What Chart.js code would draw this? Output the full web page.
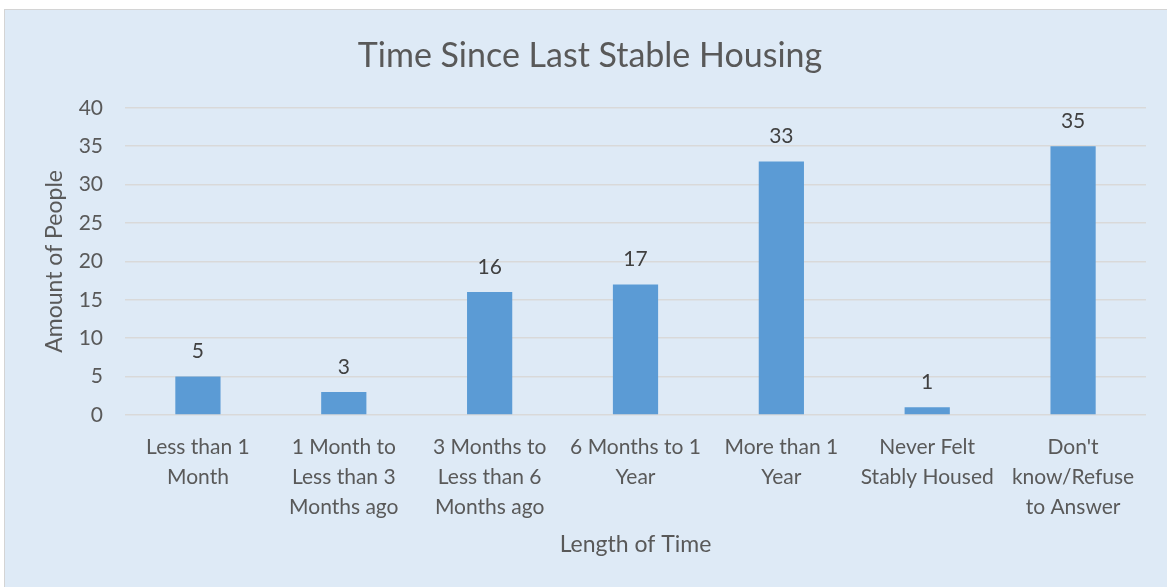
<!DOCTYPE html>
<html>
<head>
<meta charset="utf-8">
<script src="https://cdn.jsdelivr.net/npm/chart.js@4/dist/chart.umd.min.js"></script>
<style>
  html, body { margin: 0; padding: 0; background: #fff; }
  #box {
    position: absolute; left: 4px; top: 9px; width: 1170px; height: 590px;
    background: #deeaf6; border: 1px solid #d4d4d4; box-sizing: border-box;
  }
  #wrap { position: absolute; left: 0; top: 0; width: 1167px; height: 587px; }
</style>
</head>
<body>
<div id="box"></div>
<div id="wrap"><canvas id="chart" width="1167" height="587"></canvas></div>
<script>
const categories = [
    ['Less than 1', 'Month'],
    ['1 Month to', 'Less than 3', 'Months ago'],
    ['3 Months to', 'Less than 6', 'Months ago'],
    ['6 Months to 1', 'Year'],
    ['More than 1', 'Year'],
    ['Never Felt', 'Stably Housed'],
    ["Don't", 'know/Refuse', 'to Answer']
];
const values = [5, 3, 16, 17, 33, 1, 35];
const yTicks = [0, 5, 10, 15, 20, 25, 30, 35, 40];

const fontFamily = 'Lato, "Open Sans", sans-serif';
const textColor = '#595959';

// valeurs au-dessus des barres
const barLabels = {
    id: 'barLabels',
    afterDatasetsDraw(chart) {
        const ctx = chart.ctx;
        const meta = chart.getDatasetMeta(0);
        ctx.save();
        ctx.font = '21px ' + fontFamily;
        ctx.fillStyle = '#404040';
        ctx.textAlign = 'center';
        ctx.textBaseline = 'middle';
        meta.data.forEach((bar, i) => {
            ctx.fillText(String(values[i]), bar.x, bar.y - 25);
        });
        ctx.restore();
    }
};

new Chart(document.getElementById('chart').getContext('2d'), {
    type: 'bar',
    data: {
        labels: categories,
        datasets: [{
            data: values,
            backgroundColor: '#5b9bd5',
            borderWidth: 0,
            barPercentage: 0.31,
            categoryPercentage: 1
        }]
    },
    options: {
        responsive: false,
        animation: false,
        layout: { padding: { left: 34, right: 21, top: 0, bottom: 0 } },
        plugins: {
            legend: { display: false },
            tooltip: { enabled: false },
            title: {
                display: true,
                text: 'Time Since Last Stable Housing',
                color: textColor,
                font: { family: fontFamily, size: 34, weight: 'normal', lineHeight: 1.2 },
                padding: { top: 36, bottom: 31 }
            }
        },
        scales: {
            x: {
                grid: { display: false, drawTicks: false },
                border: { display: false },
                ticks: {
                    color: textColor,
                    font: { family: fontFamily, size: 21, lineHeight: 1.43 },
                    padding: 17,
                    maxRotation: 0,
                    autoSkip: false
                },
                title: {
                    display: true,
                    text: 'Length of Time',
                    color: textColor,
                    font: { family: fontFamily, size: 23, lineHeight: 1.2 },
                    padding: { top: 0, bottom: 29 }
                },
                afterFit(scale) { scale.height = 172; }
            },
            y: {
                min: 0,
                max: 40,
                afterBuildTicks(scale) { scale.ticks = yTicks.map(v => ({ value: v })); },
                grid: { color: '#d9d9d9', lineWidth: 1.5, drawTicks: false },
                border: { display: false },
                ticks: {
                    color: textColor,
                    font: { family: fontFamily, size: 21 },
                    padding: 22
                },
                title: {
                    display: true,
                    text: 'Amount of People',
                    color: textColor,
                    font: { family: fontFamily, size: 23, lineHeight: 1.2 },
                    padding: { top: 7, bottom: 0 }
                },
                afterFit(scale) { scale.width = 91; }
            }
        }
    },
    plugins: [barLabels]
});
</script>
</body>
</html>
